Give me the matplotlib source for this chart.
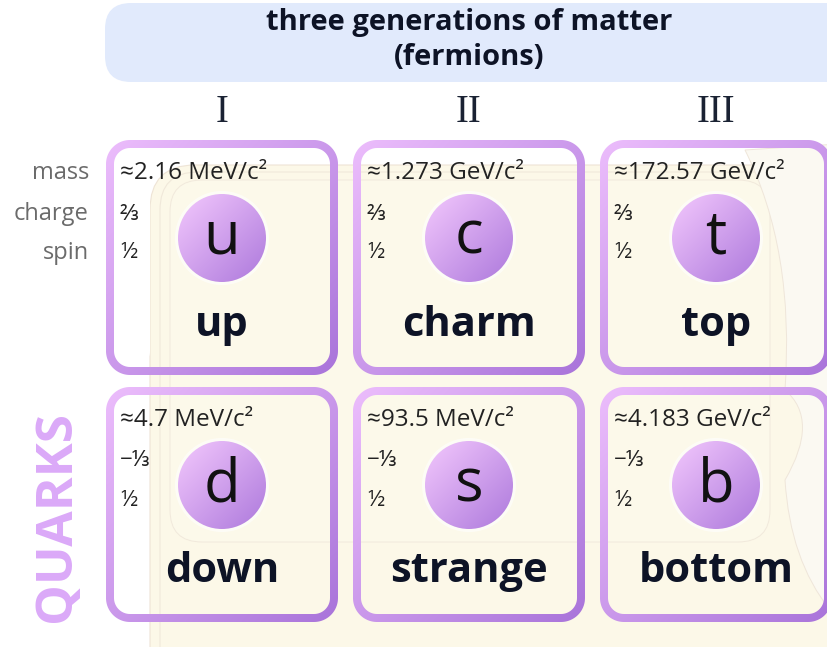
import numpy as np
import matplotlib.pyplot as plt
from matplotlib.path import Path
from matplotlib.patches import PathPatch, Circle, FancyBboxPatch
from matplotlib.colors import to_rgb

plt.rcParams["font.family"] = ["Open Sans", "Noto Sans", "DejaVu Sans"]

# chart content
generations = ["I", "II", "III"]
symbols = [["u", "c", "t"], ["d", "s", "b"]]
names = [["up", "charm", "top"], ["down", "strange", "bottom"]]
masses = [
    ["≈2.16 MeV/c²", "≈1.273 GeV/c²", "≈172.57 GeV/c²"],
    ["≈4.7 MeV/c²", "≈93.5 MeV/c²", "≈4.183 GeV/c²"],
]
charges = ["⅔", "−⅓"]
spins = ["½", "½"]
prop_labels = ["mass", "charge", "spin"]
header = "three generations of matter\n(fermions)"
group_label = "QUARKS"

W, H = 828, 647
COL_X0, COL_STEP = 222, 247
ROW_TOP0, ROW_STEP = 140, 247
CARD_HW, CARD_H = 116, 235
BORDER = 8
PROP_DY = [33, 74, 113]  # mass / charge / spin rows below card top

fig = plt.figure(figsize=(W / 100, H / 100), dpi=100)
ax = fig.add_axes([0, 0, 1, 1])
ax.set_xlim(0, W)
ax.set_ylim(H, 0)
ax.axis("off")


def rrect(x0, y0, x1, y1, r, n=20):
    pts = []
    for cx, cy, a0 in [(x1 - r, y0 + r, -90), (x1 - r, y1 - r, 0),
                       (x0 + r, y1 - r, 90), (x0 + r, y0 + r, 180)]:
        th = np.radians(np.linspace(a0, a0 + 90, n))
        pts += list(zip(cx + r * np.cos(th), cy + r * np.sin(th)))
    return pts


def ring_path(x0, y0, x1, y1, r, w):
    outer = rrect(x0, y0, x1, y1, r)
    inner = rrect(x0 + w, y0 + w, x1 - w, y1 - w, r - w)[::-1]
    verts = outer + [outer[0]] + inner + [inner[0]]
    codes = ([Path.MOVETO] + [Path.LINETO] * (len(outer) - 1) + [Path.CLOSEPOLY]
             + [Path.MOVETO] + [Path.LINETO] * (len(inner) - 1) + [Path.CLOSEPOLY])
    return Path(verts, codes)


def gradient(x0, y0, x1, y1, c0, c1, clip, z):
    u = np.linspace(0, 1, 80)
    t = (u[None, :] + u[:, None]) / 2
    c0, c1 = np.array(to_rgb(c0)), np.array(to_rgb(c1))
    img = c0 * (1 - t)[..., None] + c1 * t[..., None]
    im = ax.imshow(img, extent=(x0, x1, y1, y0), origin="upper",
                   interpolation="bilinear", aspect="auto", zorder=z)
    im.set_clip_path(clip)


# background regions
ax.add_patch(FancyBboxPatch((150, 165), 800, 600, boxstyle="round,pad=0,rounding_size=45",
                            fc="#fcf8e8", ec="#eee4d6", lw=0.8, zorder=0))
ax.add_patch(FancyBboxPatch((160, 172), 790, 600, boxstyle="round,pad=0,rounding_size=38",
                            fc="none", ec="#f0e8da", lw=0.8, zorder=0))
ax.add_patch(FancyBboxPatch((170, 180), 600, 362, boxstyle="round,pad=0,rounding_size=32",
                            fc="#fcf9ea", ec="#f1e9dc", lw=0.7, zorder=0))
curve = Path([(745, 150), (795, 250), (785, 390), (820, 420), (785, 480),
              (790, 560), (830, 610), (900, 660), (900, 140), (745, 150)],
             [Path.MOVETO, Path.CURVE3, Path.CURVE3, Path.CURVE3, Path.CURVE3,
              Path.CURVE3, Path.CURVE3, Path.LINETO, Path.LINETO, Path.CLOSEPOLY])
ax.add_patch(PathPatch(curve, fc="#fbf9f2", ec="#efe6da", lw=0.7, zorder=0.5))

# header
ax.add_patch(FancyBboxPatch((105, 3), 760, 79, boxstyle="round,pad=0,rounding_size=26",
                            fc="#e1eafc", ec="none", zorder=1))
ax.text(COL_X0 + COL_STEP, 40, header, ha="center", va="center", fontsize=21,
        fontweight="bold", color="#0d1326", linespacing=1.3, zorder=2)

for i, g in enumerate(generations):
    ax.text(COL_X0 + i * COL_STEP, 112, g, ha="center", va="center",
            fontsize=28, family="Liberation Serif", color="#1a2233")

for k, lab in enumerate(prop_labels):
    ax.text(89, ROW_TOP0 + PROP_DY[k], lab, ha="right", va="center",
            fontsize=17, color="#6b6b6b")

ax.text(57, 516, group_label, ha="center", va="center", rotation=90,
        fontsize=37, fontweight="bold", color="#dba9f8")

for r in range(len(names)):
    top = ROW_TOP0 + r * ROW_STEP
    for c in range(len(generations)):
        cx = COL_X0 + c * COL_STEP
        x0, x1 = cx - CARD_HW, cx + CARD_HW
        y0, y1 = top, top + CARD_H
        # white strip left of the cream area in the first card
        if r == 0 and c == 0:
            ax.add_patch(PathPatch(Path(rrect(x0 + BORDER, y0 + BORDER, 150, y1 - BORDER, 16)),
                                   fc="white", ec="none", zorder=0.8))
        ring = PathPatch(ring_path(x0, y0, x1, y1, 24, BORDER), fc="none", ec="none",
                         transform=ax.transData)
        gradient(x0, y0, x1, y1, "#ecbdfc", "#a974da", ring, 3)
        # particle circle
        ccx, ccy = cx, top + 98
        ax.add_patch(Circle((ccx, ccy), 47, fc="white", ec="none", alpha=0.6, zorder=3))
        disc = Circle((ccx, ccy), 44, fc="none", ec="none", transform=ax.transData)
        gradient(ccx - 44, ccy - 44, ccx + 44, ccy + 44, "#f3c8fd", "#ad79dc", disc, 4)
        ax.text(ccx, ccy, symbols[r][c], ha="center", va="center", fontsize=43,
                color="#111111", zorder=5)
        ax.text(cx, top + 185, names[r][c], ha="center", va="center", fontsize=30,
                fontweight="bold", color="#0d1326", zorder=5)
        ax.text(x0 + 14, top + PROP_DY[0], masses[r][c], ha="left", va="center",
                fontsize=17.5, color="#222222", zorder=5)
        ax.text(x0 + 14, top + PROP_DY[1], charges[r], ha="left", va="center",
                fontsize=16, color="#222222", zorder=5)
        ax.text(x0 + 14, top + PROP_DY[2], spins[r], ha="left", va="center",
                fontsize=16, color="#222222", zorder=5)

ax.set_xlim(0, W)
ax.set_ylim(H, 0)
fig.savefig("out.png", dpi=100, facecolor="white")
